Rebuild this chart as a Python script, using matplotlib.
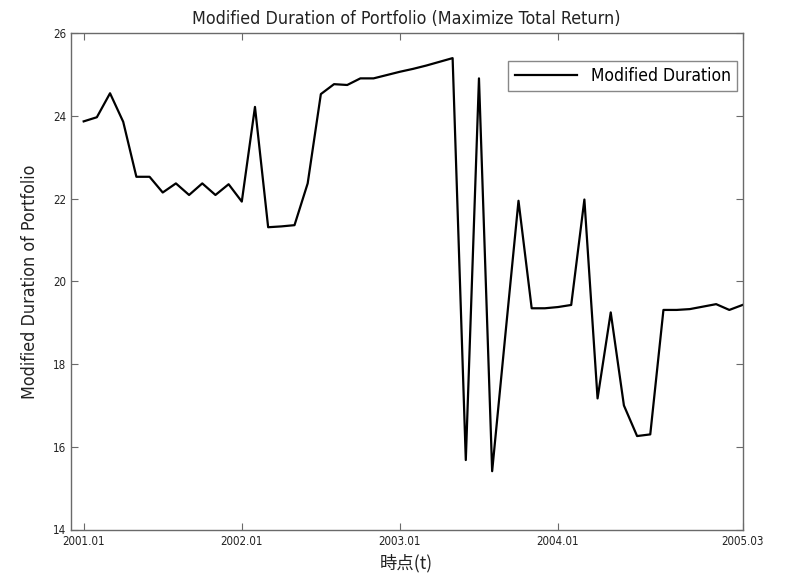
import matplotlib
matplotlib.use("Agg")
import matplotlib.pyplot as plt

# Monthly modified duration, 2001.01 .. 2005.03
duration = [
    23.87, 23.97, 24.55, 23.86, 22.53, 22.53, 22.15, 22.37, 22.09, 22.37,
    22.09, 22.35, 21.93, 24.22, 21.31, 21.33, 21.36, 22.37, 24.53, 24.77,
    24.75, 24.91, 24.91, 24.99, 25.07, 25.14, 25.22, 25.31, 25.40, 15.68,
    24.91, 15.41, 18.70, 21.95, 19.35, 19.35, 19.38, 19.43, 21.98, 17.17,
    19.25, 17.00, 16.26, 16.30, 19.31, 19.31, 19.33, 19.39, 19.45, 19.31,
    19.43,
]
months = list(range(1, len(duration) + 1))

xtick_pos = [1, 13, 25, 37, 51]
xtick_labels = ["2001.01", "2002.01", "2003.01", "2004.01", "2005.03"]
ytick_vals = [14, 16, 18, 20, 22, 24, 26]

plt.rcParams["font.family"] = ["DejaVu Sans"]
plt.rcParams["font.stretch"] = "condensed"

fig = plt.figure(figsize=(7.86, 5.75), dpi=100)
fig.patch.set_facecolor("white")
ax = fig.add_axes([70.5 / 786, 1 - 529.5 / 575, (742.5 - 70.5) / 786, (529.5 - 33.3) / 575])

ax.plot(months, duration, color="black", linewidth=1.6, label="Modified Duration")

ax.set_xlim(0, 51)
ax.set_ylim(14, 26)
ax.set_xticks(xtick_pos)
ax.set_xticklabels(xtick_labels)
ax.set_yticks(ytick_vals)

edge = "#6a6a6a"
for s in ax.spines.values():
    s.set_color(edge)
    s.set_linewidth(1.0)
ax.tick_params(direction="in", length=5, width=0.8, color=edge,
               top=True, right=True, labelsize=8.3, labelcolor="#222222", pad=3)
ax.tick_params(axis="x", pad=4)
for lbl in ax.get_yticklabels():
    lbl.set_verticalalignment("center_baseline")

txt = "#222222"
ax.set_title("Modified Duration of Portfolio (Maximize Total Return)",
             fontsize=12.8, color=txt, pad=7)
ax.set_ylabel("Modified Duration of Portfolio", fontsize=12.8, color=txt, labelpad=10)
ax.set_xlabel("時点(t)", fontsize=12.5, color=txt, labelpad=4,
              family=["Noto Sans CJK JP", "DejaVu Sans"])

leg = ax.legend(loc="upper right", fontsize=12.5, frameon=True, fancybox=False,
                handlelength=3.6, borderpad=0.35, borderaxespad=0,
                bbox_to_anchor=(0.9918, 0.944))
leg.get_frame().set_edgecolor(edge)
leg.get_frame().set_linewidth(1.0)

fig.savefig("out.png", dpi=100, facecolor="white")
